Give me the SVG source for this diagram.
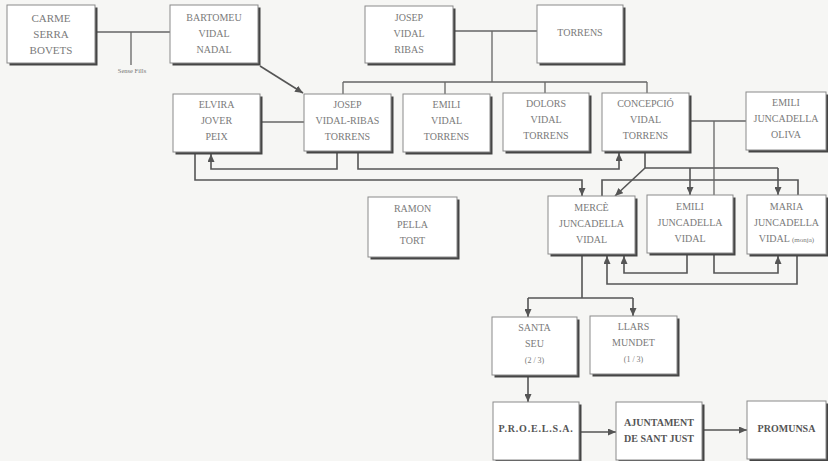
<svg xmlns="http://www.w3.org/2000/svg" width="828" height="461" viewBox="0 0 828 461">
<defs>
<style>
.sh{fill:#454545}
.bx{fill:#ffffff;stroke:#8a8a8a;stroke-width:1}
.t{font-family:"Liberation Serif","DejaVu Serif",serif;font-size:10px;fill:#7a7a7a;text-anchor:middle}
.tb{font-family:"Liberation Serif","DejaVu Serif",serif;font-size:10px;font-weight:bold;fill:#555;text-anchor:middle}
.sm{font-size:7px}
.c{fill:none;stroke:#555;stroke-width:1.6}
.m{fill:none;stroke:#666;stroke-width:1.3}
.a{marker-end:url(#ah)}
</style>
<marker id="ah" markerUnits="userSpaceOnUse" markerWidth="8" markerHeight="7" refX="8" refY="3.5" orient="auto">
<path d="M0,0 L8,3.5 L0,7 z" fill="#555"/>
</marker>
</defs>
<rect width="828" height="461" fill="#f6f6f4"/>

<g id="connectors">
<path class="m" d="M95,32 H170 M131,32 V65"/>
<path class="m" d="M453,31 H537 M492,31 V82 M343,82 H647 M343,82 V94 M445,82 V94 M545,82 V93 M647,82 V93"/>
<path class="c a" d="M260,66 L303,93"/>
<path class="m" d="M260,122 H304"/>
<path class="c a" d="M337,152 V169 H211 V154"/>
<path class="c a" d="M358,152 V169 H619 V153"/>
<path class="c a" d="M195,152 V180 H582 V196"/>
<path class="c" d="M645,152 V168 H778"/>
<path class="c a" d="M778,168 V195"/>
<path class="c a" d="M690,168 V195"/>
<path class="c a" d="M645,168 L615,196"/>
<path class="c" d="M602,196 V180 H798 V195"/>
<path class="m" d="M689,121 H746 M714,121 V195"/>
<path class="c a" d="M687,254 V273 H624 V256"/>
<path class="c a" d="M714,254 V273 H778 V256"/>
<path class="c a" d="M797,255 V284 H607 V256"/>
<path class="c" d="M582,255 V298 M528,298 H633"/>
<path class="c a" d="M528,298 V317"/>
<path class="c a" d="M633,298 V316"/>
<path class="c a" d="M528,376 V402"/>
<path class="c a" d="M580,432 H616"/>
<path class="c a" d="M703,430 H747"/>
<text x="132" y="73" font-family="Liberation Serif,serif" font-size="6.5" fill="#777" text-anchor="middle">Sense Fills</text>
</g>

<g id="carme"><rect class="sh" x="9.5" y="7.5" width="88" height="58"/><rect class="bx" x="7" y="5" width="88" height="58"/>
<text class="t" style="font-size:11px" x="51" y="22">CARME</text><text class="t" style="font-size:11px" x="51" y="38">SERRA</text><text class="t" style="font-size:11px" x="51" y="54">BOVETS</text></g>

<g id="bartomeu"><rect class="sh" x="172.5" y="7.5" width="88" height="58"/><rect class="bx" x="170" y="5" width="88" height="58"/>
<text class="t" x="214" y="21">BARTOMEU</text><text class="t" x="214" y="37">VIDAL</text><text class="t" x="214" y="53">NADAL</text></g>

<g id="josep-vidal-ribas"><rect class="sh" x="367.5" y="8.5" width="88" height="57"/><rect class="bx" x="365" y="6" width="88" height="57"/>
<text class="t" x="409" y="21">JOSEP</text><text class="t" x="409" y="37">VIDAL</text><text class="t" x="409" y="53">RIBAS</text></g>

<g id="torrens"><rect class="sh" x="539.5" y="7.5" width="86" height="58"/><rect class="bx" x="537" y="5" width="86" height="58"/>
<text class="t" x="580" y="36">TORRENS</text></g>

<g id="elvira"><rect class="sh" x="175.5" y="96.5" width="87" height="58"/><rect class="bx" x="173" y="94" width="87" height="58"/>
<text class="t" x="216.5" y="108">ELVIRA</text><text class="t" x="216.5" y="124">JOVER</text><text class="t" x="216.5" y="140">PEIX</text></g>

<g id="josep-vidal-ribas-torrens"><rect class="sh" x="306.5" y="96.5" width="87" height="57"/><rect class="bx" x="304" y="94" width="87" height="57"/>
<text class="t" x="347.5" y="108">JOSEP</text><text class="t" x="347.5" y="124">VIDAL-RIBAS</text><text class="t" x="347.5" y="140">TORRENS</text></g>

<g id="emili-vidal"><rect class="sh" x="405.5" y="96.5" width="87" height="58"/><rect class="bx" x="403" y="94" width="87" height="58"/>
<text class="t" x="446.5" y="108">EMILI</text><text class="t" x="446.5" y="124">VIDAL</text><text class="t" x="446.5" y="140">TORRENS</text></g>

<g id="dolors"><rect class="sh" x="505.5" y="95.5" width="86" height="58"/><rect class="bx" x="503" y="93" width="86" height="58"/>
<text class="t" x="546" y="107">DOLORS</text><text class="t" x="546" y="123">VIDAL</text><text class="t" x="546" y="139">TORRENS</text></g>

<g id="concepcio"><rect class="sh" x="604.5" y="95.5" width="87" height="58"/><rect class="bx" x="602" y="93" width="87" height="58"/>
<text class="t" x="645.5" y="107">CONCEPCIÓ</text><text class="t" x="645.5" y="123">VIDAL</text><text class="t" x="645.5" y="139">TORRENS</text></g>

<g id="emili-juncadella-oliva"><rect class="sh" x="748.5" y="94.5" width="80" height="58"/><rect class="bx" x="746" y="92" width="80" height="58"/>
<text class="t" x="786" y="106">EMILI</text><text class="t" x="786" y="122">JUNCADELLA</text><text class="t" x="786" y="138">OLIVA</text></g>

<g id="ramon"><rect class="sh" x="370.5" y="199.5" width="89" height="60"/><rect class="bx" x="368" y="197" width="89" height="60"/>
<text class="t" x="412.5" y="212">RAMON</text><text class="t" x="412.5" y="228">PELLA</text><text class="t" x="412.5" y="244">TORT</text></g>

<g id="merce"><rect class="sh" x="550.5" y="198.5" width="87" height="58"/><rect class="bx" x="548" y="196" width="87" height="58"/>
<text class="t" x="591.5" y="211">MERCÈ</text><text class="t" x="591.5" y="227">JUNCADELLA</text><text class="t" x="591.5" y="243">VIDAL</text></g>

<g id="emili-juncadella-vidal"><rect class="sh" x="649.5" y="197.5" width="86" height="58"/><rect class="bx" x="647" y="195" width="86" height="58"/>
<text class="t" x="690" y="210">EMILI</text><text class="t" x="690" y="226">JUNCADELLA</text><text class="t" x="690" y="242">VIDAL</text></g>

<g id="maria"><rect class="sh" x="749.5" y="197.5" width="79" height="59"/><rect class="bx" x="747" y="195" width="79" height="59"/>
<text class="t" x="786.5" y="210">MARIA</text><text class="t" x="786.5" y="226">JUNCADELLA</text><text class="t" x="786.5" y="242">VIDAL <tspan class="sm">(monja)</tspan></text></g>

<g id="santa-seu"><rect class="sh" x="494.5" y="319.5" width="85" height="58"/><rect class="bx" x="492" y="317" width="85" height="58"/>
<text class="t" x="534.5" y="331">SANTA</text><text class="t" x="534.5" y="347">SEU</text><text class="t" style="font-size:8px" x="534.5" y="363">(2 / 3)</text></g>

<g id="llars-mundet"><rect class="sh" x="592.5" y="318.5" width="87" height="58"/><rect class="bx" x="590" y="316" width="87" height="58"/>
<text class="t" x="633.5" y="330">LLARS</text><text class="t" x="633.5" y="346">MUNDET</text><text class="t" style="font-size:8px" x="633.5" y="362">(1 / 3)</text></g>

<g id="proelsa"><rect class="sh" x="495.5" y="404.5" width="86" height="58"/><rect class="bx" x="493" y="402" width="86" height="58"/>
<text class="tb" style="letter-spacing:0.8px" x="536" y="432">P.R.O.E.L.S.A.</text></g>

<g id="ajuntament"><rect class="sh" x="618.5" y="404.5" width="86" height="58"/><rect class="bx" x="616" y="402" width="86" height="58"/>
<text class="tb" x="659" y="426">AJUNTAMENT</text><text class="tb" x="659" y="442">DE SANT JUST</text></g>

<g id="promunsa"><rect class="sh" x="749.5" y="403.5" width="79" height="58"/><rect class="bx" x="747" y="401" width="79" height="58"/>
<text class="tb" x="786.5" y="432">PROMUNSA</text></g>
</svg>
